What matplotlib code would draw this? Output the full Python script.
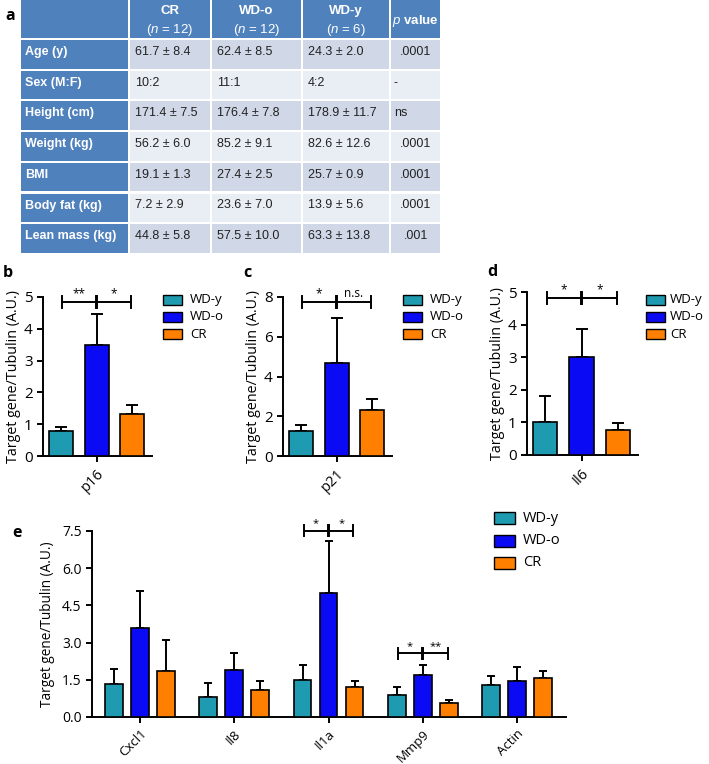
import numpy as np
import matplotlib.pyplot as plt
from matplotlib.patches import Rectangle

# ---- panel a: table ----
col_heads = ['CR', 'WD-o', 'WD-y']
col_ns = ['12', '12', '6']
row_names = ['Age (y)', 'Sex (M:F)', 'Height (cm)', 'Weight (kg)', 'BMI',
             'Body fat (kg)', 'Lean mass (kg)']
cr_vals = ['61.7 ± 8.4', '10:2', '171.4 ± 7.5', '56.2 ± 6.0', '19.1 ± 1.3',
           '7.2 ± 2.9', '44.8 ± 5.8']
wdo_vals = ['62.4 ± 8.5', '11:1', '176.4 ± 7.8', '85.2 ± 9.1', '27.4 ± 2.5',
            '23.6 ± 7.0', '57.5 ± 10.0']
wdy_vals = ['24.3 ± 2.0', '4:2', '178.9 ± 11.7', '82.6 ± 12.6', '25.7 ± 0.9',
            '13.9 ± 5.6', '63.3 ± 13.8']
p_vals = ['.0001', '-', 'ns', '.0001', '.0001', '.0001', '.001']

# ---- panels b-e: bar charts ----
groups = ['WD-y', 'WD-o', 'CR']
colors = ['#1E9BB0', '#0A0AF5', '#FF8000']

small_genes = ['p16', 'p21', 'Il6']
small_means = [[0.79, 3.49, 1.32], [1.27, 4.66, 2.33], [1.01, 3.0, 0.77]]
small_tops = [[0.91, 4.47, 1.6], [1.58, 6.94, 2.87], [1.80, 3.87, 0.99]]
small_ymax = [5, 8, 5]
small_sig = [['**', '*'], ['*', 'n.s.'], ['*', '*']]
small_sig_y = [4.84, 7.75, 4.82]

genes_e = ['Cxcl1', 'Il8', 'Il1a', 'Mmp9', 'Actin']
wdy_e = [1.34, 0.80, 1.50, 0.88, 1.31]
wdy_e_top = [1.93, 1.38, 2.08, 1.20, 1.66]
wdo_e = [3.60, 1.89, 5.01, 1.71, 1.47]
wdo_e_top = [5.08, 2.57, 7.10, 2.08, 2.02]
cr_e = [1.86, 1.07, 1.22, 0.55, 1.58]
cr_e_top = [3.09, 1.46, 1.45, 0.68, 1.85]
sig_e_gene = ['Il1a', 'Mmp9']
sig_e = [['*', '*'], ['*', '**']]
sig_e_y = [7.52, 2.57]

plt.rcParams['font.family'] = ['Open Sans', 'DejaVu Sans']
plt.rcParams['mathtext.fontset'] = 'custom'
plt.rcParams['mathtext.it'] = 'Liberation Sans:italic'
plt.rcParams['mathtext.rm'] = 'Liberation Sans'
plt.rcParams['mathtext.bf'] = 'Liberation Sans:bold'

W, H = 709, 764
fig = plt.figure(figsize=(W / 100, H / 100), dpi=100)

# overlay in pixel coordinates for table, panel letters and legends
ov = fig.add_axes([0, 0, 1, 1])
ov.set_xlim(0, W)
ov.set_ylim(H, 0)
ov.axis('off')

tfont = ['Liberation Sans', 'DejaVu Sans']
tfs = 9
blue_hdr = '#4F81BD'
dark_row = '#D0D8E8'
light_row = '#E9EDF4'
col_x = [20, 129, 211, 302, 390, 441]
gap = 1.2

# header
for c in range(5):
    ov.add_patch(Rectangle((col_x[c] + gap, 0), col_x[c + 1] - col_x[c] - 2 * gap, 38,
                           color=blue_hdr, lw=0))
for c, (name, n) in enumerate(zip(col_heads, col_ns)):
    cx = (col_x[c + 1] + col_x[c + 2]) / 2
    ov.text(cx, 11, name, ha='center', va='center', color='white', fontsize=tfs + 0.5,
            fontweight='bold', family=tfont)
    ov.text(cx, 30, '($\\it{n}$ = ' + n + ')', ha='center', va='center', color='white',
            fontsize=tfs + 0.5, family=tfont)
ov.text(415, 21, '$\\it{p}$ value', ha='center', va='center', color='white',
        fontsize=tfs + 0.5, fontweight='bold', family=tfont)

# body rows
for r, name in enumerate(row_names):
    top = 40 + 30.7 * r
    h = 28.7
    bg = dark_row if r % 2 == 0 else light_row
    ov.add_patch(Rectangle((col_x[0] + gap, top), col_x[1] - col_x[0] - 2 * gap, h,
                           color=blue_hdr, lw=0))
    for c in range(1, 5):
        ov.add_patch(Rectangle((col_x[c] + gap, top), col_x[c + 1] - col_x[c] - 2 * gap, h,
                               color=bg, lw=0))
    yc = top + 12
    ov.text(25, yc, name, ha='left', va='center', color='white', fontsize=tfs,
            fontweight='bold', family=tfont)
    for c, vals in enumerate([cr_vals, wdo_vals, wdy_vals]):
        ov.text(col_x[c + 1] + 6, yc, vals[r], ha='left', va='center', color='#222222',
                fontsize=tfs, family=tfont)
    if p_vals[r].startswith('.'):
        ov.text(416, yc, p_vals[r], ha='center', va='center', color='#222222',
                fontsize=tfs, family=tfont)
    else:
        ov.text(394, yc, p_vals[r], ha='left', va='center', color='#222222',
                fontsize=tfs, family=tfont)

# panel letters
for letter, (px, py) in zip('abcde', [(10, 16), (8, 273), (247, 273), (492, 272), (17, 533)]):
    ov.text(px, py, letter, ha='center', va='center', fontsize=11.5, fontweight='bold')


def legend(x, y, step, pw, ph, fs, pad=8):
    for k, g in enumerate(groups):
        ov.add_patch(Rectangle((x, y + k * step - ph / 2), pw, ph, facecolor=colors[k],
                               edgecolor='black', lw=1.0))
        ov.text(x + pw + pad, y + k * step, g, ha='left', va='center', fontsize=fs)


def sig_bracket(ax, xs, y, labels, tick, fs):
    segs = [(xs[0] + 0.02 * (xs[2] - xs[0]), xs[1] - 0.008 * (xs[2] - xs[0])),
            (xs[1] + 0.008 * (xs[2] - xs[0]), xs[2] - 0.02 * (xs[2] - xs[0]))]
    for (a, b), lab in zip(segs, labels):
        ax.plot([a, b], [y, y], color='black', lw=1.4, clip_on=False)
        ax.plot([a, a], [y - tick, y + tick], color='black', lw=1.4, clip_on=False)
        ax.plot([b, b], [y - tick, y + tick], color='black', lw=1.4, clip_on=False)
        ax.text((a + b) / 2, y + tick * 0.3, lab, ha='center', va='bottom', fontsize=fs)


def style(ax):
    ax.patch.set_alpha(0)
    for s in ['top', 'right']:
        ax.spines[s].set_visible(False)
    for s in ['left', 'bottom']:
        ax.spines[s].set_linewidth(1.4)
    ax.tick_params(width=1.4, length=4, color='black')


# ---- panels b, c, d ----
boxes = [(43, 152, 297, 456), (283, 392, 297, 456), (527, 638, 292, 455)]
legend_pos = [(163, 300, 8), (403, 300, 8), (646, 300, 5)]
for i, (l, r, t, b) in enumerate(boxes):
    ax = fig.add_axes([l / W, (H - b) / H, (r - l) / W, (b - t) / H])
    x = np.arange(3)
    means = np.array(small_means[i])
    errs = np.array(small_tops[i]) - means
    ax.bar(x, means, width=0.67, color=colors, edgecolor='black', linewidth=1.2, zorder=3)
    ax.errorbar(x, means, yerr=[np.zeros(3), errs], fmt='none', ecolor='black',
                elinewidth=1.4, capsize=4.3, capthick=1.4, zorder=2)
    ax.set_xlim(-0.5, 2.55)
    ax.set_ylim(0, small_ymax[i])
    ax.set_yticks(np.arange(0, small_ymax[i] + 1, 1 if small_ymax[i] == 5 else 2))
    ax.set_xticks([1])
    ax.set_xticklabels([small_genes[i]], rotation=45, ha='right', rotation_mode='anchor',
                       fontsize=10.5)
    ax.tick_params(axis='y', labelsize=11)
    ax.set_ylabel('Target gene/Tubulin (A.U.)', fontsize=10.3, labelpad=2)
    style(ax)
    sig_bracket(ax, x, small_sig_y[i], small_sig[i], 0.037 * small_ymax[i], 8.5)
    lx, ly, lpad = legend_pos[i]
    legend(lx, ly, 17, 19, 10, 9.5, lpad)

# ---- panel e ----
l, r, t, b = 92, 566, 531, 717
ax = fig.add_axes([l / W, (H - b) / H, (r - l) / W, (b - t) / H])
xc = np.arange(len(genes_e))
offs = [-0.276, 0.0, 0.276]
series = [(wdy_e, wdy_e_top), (wdo_e, wdo_e_top), (cr_e, cr_e_top)]
for k, (m, tp) in enumerate(series):
    m = np.array(m)
    e = np.array(tp) - m
    ax.bar(xc + offs[k], m, width=0.19, color=colors[k], edgecolor='black',
           linewidth=1.2, zorder=3)
    ax.errorbar(xc + offs[k], m, yerr=[np.zeros(len(m)), e], fmt='none', ecolor='black',
                elinewidth=1.4, capsize=3.2, capthick=1.4, zorder=2)
ax.set_xlim(-0.51, 4.52)
ax.set_ylim(0, 7.5)
ax.set_yticks([0, 1.5, 3.0, 4.5, 6.0, 7.5])
ax.set_yticklabels(['0.0', '1.5', '3.0', '4.5', '6.0', '7.5'])
ax.set_xticks(xc)
ax.set_xticklabels(genes_e, rotation=45, ha='right', rotation_mode='anchor', fontsize=9.5)
ax.tick_params(axis='y', labelsize=10)
ax.set_ylabel('Target gene/Tubulin (A.U.)', fontsize=9.8, labelpad=5)
style(ax)
for g, labs, y in zip(sig_e_gene, sig_e, sig_e_y):
    c = genes_e.index(g)
    sig_bracket(ax, [c + o for o in offs], y, labs, 0.22, 8)
legend(494, 518, 22.5, 21, 12, 10.5)

fig.savefig('out.png', dpi=100)
